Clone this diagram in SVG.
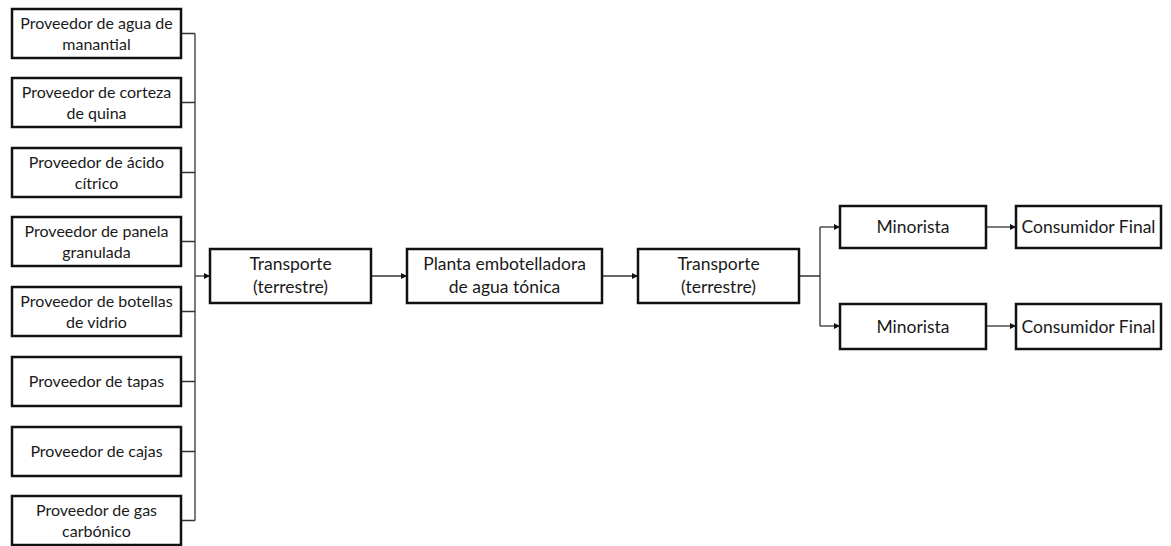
<svg xmlns="http://www.w3.org/2000/svg" width="1171" height="546" viewBox="0 0 1171 546">
  <style>
    .box { fill: #ffffff; stroke: #111111; stroke-width: 2.5; }
    .lbl { font-family: Lato, "Open Sans", sans-serif; font-size: 16px; fill: #1a1a1a; text-anchor: middle; }
    .big { font-size: 17.5px; }
    .wire { fill: none; stroke: #333333; stroke-width: 1.3; }
  </style>
  <defs>
    <marker id="arrow" viewBox="0 0 10 10" refX="10" refY="5" markerWidth="6" markerHeight="6" markerUnits="userSpaceOnUse" orient="auto">
      <path d="M0,0 L10,5 L0,10 Z" fill="#111111"/>
    </marker>
  </defs>
  <rect width="1171" height="546" fill="#ffffff"/>

  <!-- connectors -->
  <g id="connectors">
    <!-- supplier stubs into the bus -->
    <path class="wire" d="M181,33.5 H195 M181,102.5 H195 M181,172.5 H195 M181,241.5 H195 M181,311.5 H195 M181,381.5 H195 M181,451.5 H195 M181,520.5 H195"/>
    <path class="wire" d="M195,33.5 V520.5"/>
    <path class="wire" d="M195,276 H210" marker-end="url(#arrow)"/>
    <path class="wire" d="M371,276 H407" marker-end="url(#arrow)"/>
    <path class="wire" d="M602,276 H638" marker-end="url(#arrow)"/>
    <!-- split to retailers -->
    <path class="wire" d="M799,276 H820 M820,227 V326"/>
    <path class="wire" d="M820,227 H840" marker-end="url(#arrow)"/>
    <path class="wire" d="M820,326 H840" marker-end="url(#arrow)"/>
    <path class="wire" d="M986,227 H1016" marker-end="url(#arrow)"/>
    <path class="wire" d="M986,326 H1016" marker-end="url(#arrow)"/>
  </g>

  <!-- suppliers -->
  <g id="sup-agua">
    <rect class="box" x="12" y="9" width="169" height="49"/>
    <text class="lbl" x="96.5" y="29">Proveedor de agua de</text>
    <text class="lbl" x="96.5" y="50">manantial</text>
  </g>
  <g id="sup-quina">
    <rect class="box" x="12" y="78" width="169" height="49"/>
    <text class="lbl" x="96.5" y="98">Proveedor de corteza</text>
    <text class="lbl" x="96.5" y="119">de quina</text>
  </g>
  <g id="sup-acido">
    <rect class="box" x="12" y="148" width="169" height="49"/>
    <text class="lbl" x="96.5" y="168">Proveedor de ácido</text>
    <text class="lbl" x="96.5" y="189">cítrico</text>
  </g>
  <g id="sup-panela">
    <rect class="box" x="12" y="217" width="169" height="49"/>
    <text class="lbl" x="96.5" y="237">Proveedor de panela</text>
    <text class="lbl" x="96.5" y="258">granulada</text>
  </g>
  <g id="sup-botellas">
    <rect class="box" x="12" y="287" width="169" height="49"/>
    <text class="lbl" x="96.5" y="307">Proveedor de botellas</text>
    <text class="lbl" x="96.5" y="328">de vidrio</text>
  </g>
  <g id="sup-tapas">
    <rect class="box" x="12" y="357" width="169" height="49"/>
    <text class="lbl" x="96.5" y="387">Proveedor de tapas</text>
  </g>
  <g id="sup-cajas">
    <rect class="box" x="12" y="427" width="169" height="49"/>
    <text class="lbl" x="96.5" y="457">Proveedor de cajas</text>
  </g>
  <g id="sup-gas">
    <rect class="box" x="12" y="496" width="169" height="49"/>
    <text class="lbl" x="96.5" y="516">Proveedor de gas</text>
    <text class="lbl" x="96.5" y="537">carbónico</text>
  </g>

  <!-- main chain -->
  <g id="transporte-1">
    <rect class="box" x="210" y="249" width="161" height="54"/>
    <text class="lbl big" x="290.5" y="270">Transporte</text>
    <text class="lbl big" x="290.5" y="293">(terrestre)</text>
  </g>
  <g id="planta">
    <rect class="box" x="407" y="249" width="195" height="54"/>
    <text class="lbl big" x="504.5" y="270">Planta embotelladora</text>
    <text class="lbl big" x="504.5" y="293">de agua tónica</text>
  </g>
  <g id="transporte-2">
    <rect class="box" x="638" y="249" width="161" height="54"/>
    <text class="lbl big" x="718.5" y="270">Transporte</text>
    <text class="lbl big" x="718.5" y="293">(terrestre)</text>
  </g>

  <!-- retail -->
  <g id="minorista-1">
    <rect class="box" x="840" y="206" width="146" height="42"/>
    <text class="lbl big" x="913" y="233">Minorista</text>
  </g>
  <g id="consumidor-1">
    <rect class="box" x="1016" y="206" width="145" height="42"/>
    <text class="lbl big" x="1088.5" y="233">Consumidor Final</text>
  </g>
  <g id="minorista-2">
    <rect class="box" x="840" y="304" width="146" height="45"/>
    <text class="lbl big" x="913" y="332.5">Minorista</text>
  </g>
  <g id="consumidor-2">
    <rect class="box" x="1016" y="304" width="145" height="45"/>
    <text class="lbl big" x="1088.5" y="332.5">Consumidor Final</text>
  </g>
</svg>
